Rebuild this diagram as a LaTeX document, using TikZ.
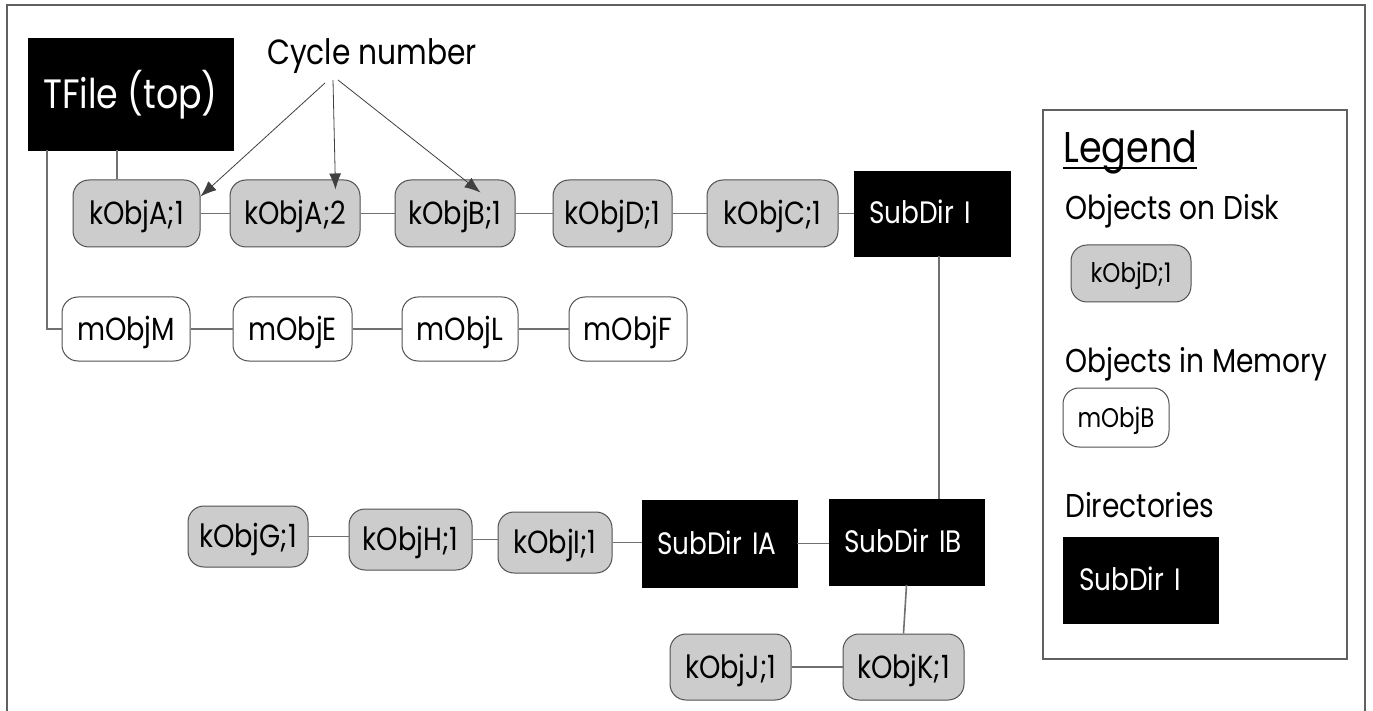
\documentclass[tikz,border=0pt]{standalone}
\usepackage{fontspec}
\setmainfont{Poppins}[FakeStretch=0.85]
\usetikzlibrary{arrows.meta}
\definecolor{diskgray}{HTML}{CCCCCC}
\definecolor{edgegray}{HTML}{505050}
\definecolor{linegray}{HTML}{707070}
\definecolor{framegray}{HTML}{606060}
\begin{document}
\begin{tikzpicture}[x=1pt,y=-1pt,
  obj/.style={draw=edgegray, line width=1pt, rounded corners=16pt, inner sep=0pt,
    text height=22pt, text depth=0pt, font=\fontsize{32}{36}\selectfont},
  disk/.style={obj, fill=diskgray},
  mem/.style={obj, fill=white},
  smallobj/.style={text height=19pt, font=\fontsize{27}{32}\selectfont},
  dirbox/.style={fill=black, draw=black, text=white, inner xsep=15pt, inner ysep=0pt,
    align=left, text height=21pt, text depth=0pt, font=\fontsize{31}{36}\selectfont},
  link/.style={draw=linegray, line width=1.6pt},
  cycarrow/.style={draw=black!75, line width=0.8pt, -{Latex[length=16pt,width=12pt]}},
  lbl/.style={anchor=base west, inner sep=0pt, font=\fontsize{33}{38}\selectfont},
]
\useasboundingbox (0,0) rectangle (1373,711);
\fill[white] (0,0) rectangle (1373,711);
% outer frame
\draw[framegray, line width=1.5pt] (7,720) -- (7,5) -- (1365,5) -- (1365,720);

% top file
\node[fill=black, draw=black, text=white, inner sep=0pt, minimum width=205pt, minimum height=112pt,
  text height=29pt, text depth=0pt, font=\fontsize{41}{46}\selectfont] (TFile) at (130.5,94) {TFile (top)};

% cycle number label
\node[anchor=base west, inner sep=0pt, font=\fontsize{35}{40}\selectfont] (cyc) at (267,65) {Cycle number};
\coordinate (cfoot) at (332,80);

% row 1
\node[disk, minimum width=127pt, minimum height=67pt] (kA1) at (136.5,213.5) {kObjA;1};
\node[disk, minimum width=130pt, minimum height=67pt] (kA2) at (295,213.5) {kObjA;2};
\node[disk, minimum width=120pt, minimum height=67pt] (kB1) at (455,213.5) {kObjB;1};
\node[disk, minimum width=119pt, minimum height=67pt] (kD1) at (612.5,213.5) {kObjD;1};
\node[disk, minimum width=131pt, minimum height=67pt] (kC1) at (772.5,213.5) {kObjC;1};
\node[dirbox, text width=126pt, minimum height=85pt] (SD1) at (932,213.5) {SubDir I};

% row 2
\node[mem, minimum width=128pt, minimum height=64pt] (mM) at (126,329) {mObjM};
\node[mem, minimum width=119pt, minimum height=64pt] (mE) at (292.5,329) {mObjE};
\node[mem, minimum width=116pt, minimum height=64pt] (mL) at (460,329) {mObjL};
\node[mem, minimum width=118pt, minimum height=64pt] (mF) at (628,329) {mObjF};

% row 3
\node[disk, minimum width=120pt, minimum height=61pt] (kG) at (248,536.5) {kObjG;1};
\node[disk, minimum width=123pt, minimum height=61pt] (kH) at (410.5,539.5) {kObjH;1};
\node[disk, minimum width=114pt, minimum height=61pt] (kI) at (555,542.5) {kObjI;1};
\node[dirbox, text width=125pt, minimum height=87pt] (SDIA) at (719.5,543.5) {SubDir IA};
\node[dirbox, text width=125pt, minimum height=86pt] (SDIB) at (906.5,542) {SubDir IB};

% row 4
\node[disk, minimum width=121pt, minimum height=66pt] (kJ) at (730.5,667) {kObjJ;1};
\node[disk, minimum width=121pt, minimum height=66pt] (kK) at (903.5,667) {kObjK;1};

% connectors
\draw[link] ([xshift=-13.5pt]TFile.south) -- ([xshift=-13.5pt]TFile.south |- kA1.north);
\draw[link] ([xshift=19pt]TFile.south west) |- (mM.west);
\draw[link] (kA1) -- (kA2);
\draw[link] (kA2) -- (kB1);
\draw[link] (kB1) -- (kD1);
\draw[link] (kD1) -- (kC1);
\draw[link] (kC1) -- (SD1);
\draw[link] (mM) -- (mE);
\draw[link] (mE) -- (mL);
\draw[link] (mL) -- (mF);
\draw[link] ([xshift=7pt]SD1.south) -- ([xshift=7pt]SD1.south |- SDIB.north);
\draw[link] (kG.east) -- (kG.east -| kH.west);
\draw[link] (kH.east) -- (kH.east -| kI.west);
\draw[link] (kI.east) -- (kI.east -| SDIA.west);
\draw[link] (SDIA.east) -- (SDIA.east -| SDIB.west);
\draw[link] (SDIB.south) -- (kK.north);
\draw[link] (kJ) -- (kK);

% cycle number arrows
\draw[cycarrow] ([xshift=-7pt,yshift=-3pt]cfoot) -- ([yshift=-17pt]kA1.north east);
\draw[cycarrow] ([xshift=1pt]cfoot) -- ([xshift=-25pt,yshift=-10pt]kA2.north east);
\draw[cycarrow] ([xshift=6pt]cfoot) -- ([xshift=-35pt,yshift=-13pt]kB1.north east);

% legend
\node[draw=framegray, line width=1.5pt, minimum width=304pt, minimum height=549pt, inner sep=0pt] (legbox) at (1195,384.5) {};
\node[lbl, font=\fontsize{43}{48}\selectfont] (legt) at (1063,163) {Legend};
\draw[line width=1.5pt] ([yshift=-5pt]legt.base west) -- ([yshift=-5pt]legt.base east);
\node[lbl] (ldisk) at (1065,220) {Objects on Disk};
\node[disk, smallobj, minimum width=120pt, minimum height=57pt] (kDleg) at (1131,273.5) {kObjD;1};
\node[lbl] (lmem) at (1065,372) {Objects in Memory};
\node[mem, smallobj, minimum width=106pt, minimum height=59pt] (mBleg) at (1116,417.5) {mObjB};
\node[lbl] (ldir) at (1065,517) {Directories};
\node[dirbox, minimum height=86pt, inner xsep=16pt, text width=123pt] (SDleg) at (1140.5,580) {SubDir I};
\end{tikzpicture}
\end{document}
